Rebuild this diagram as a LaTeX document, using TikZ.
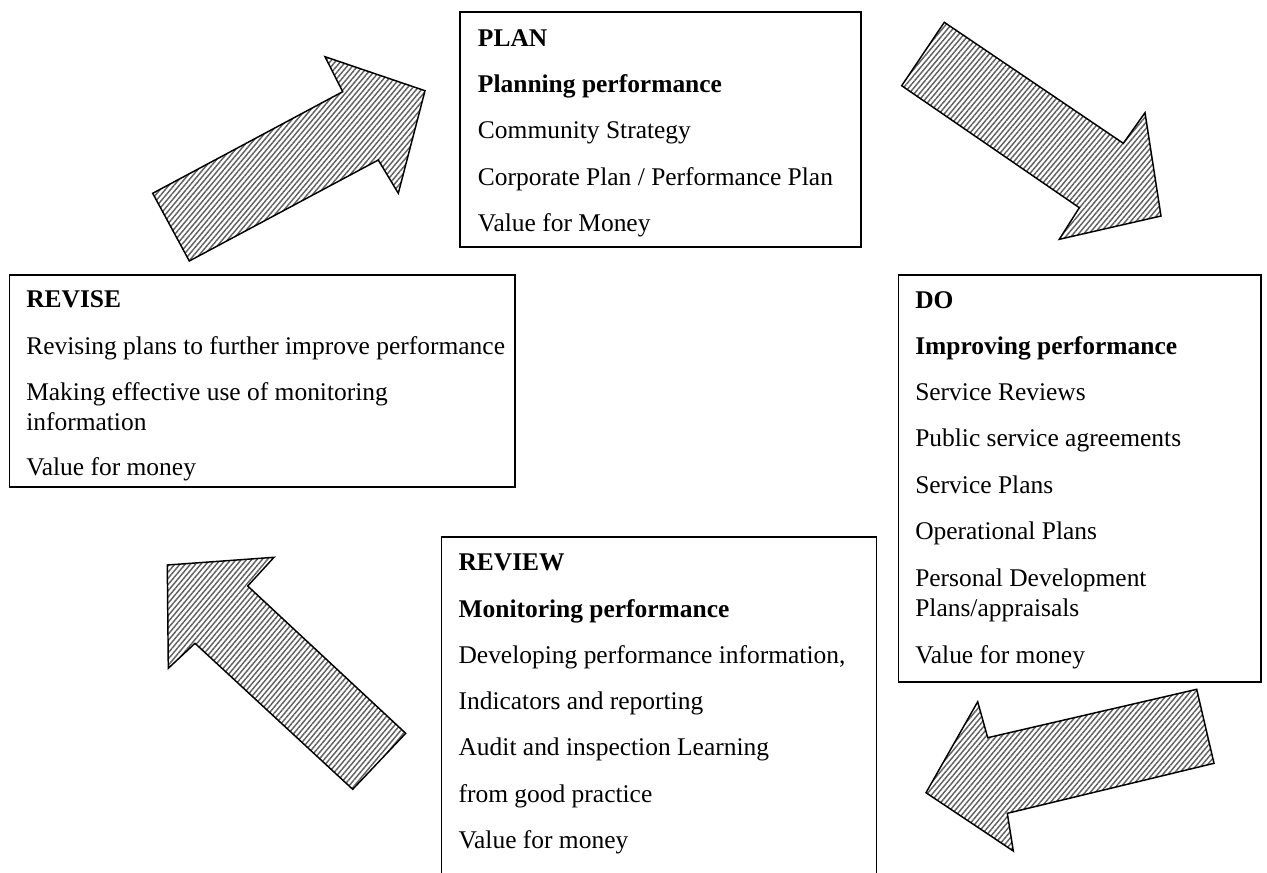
\documentclass[tikz,border=0pt]{standalone}
\usepackage{fontspec}
\setmainfont{Liberation Serif}
\usetikzlibrary{patterns.meta}
\begin{document}
\begin{tikzpicture}[x=0.75pt,y=-0.75pt,
  box/.style={draw=black,line width=1pt},
  txt/.style={anchor=base west,inner sep=0pt,font=\fontsize{19.1}{23}\selectfont},
  hd/.style={anchor=base west,inner sep=0pt,font=\fontsize{19.1}{23}\selectfont\bfseries},
  bigarrow/.style={draw=black,line width=1.1pt,line join=miter,
    pattern={Lines[angle=50,distance=3pt,line width=1.1pt]},pattern color=black!62}]
\useasboundingbox (0,0) rectangle (1267,872);

% PLAN box
\draw[box] (460,12) rectangle (861,247);
\node[hd]  (p1) at (477.7,46)    {PLAN};
\node[hd]  (p2) at (477.7,92)    {Planning performance};
\node[txt] (p3) at (477.7,138.5) {Community Strategy};
\node[txt] (p4) at (477.7,185)   {Corporate Plan / Performance Plan};
\node[txt] (p5) at (477.7,231.5) {Value for Money};

% REVISE box
\draw[box] (9.5,275) rectangle (515,487);
\node[hd]  (r1) at (26,307.7) {REVISE};
\node[txt] (r2) at (26,354.3) {Revising plans to further improve performance};
\node[txt] (r3) at (26,400)   {Making effective use of monitoring};
\node[txt] (r4) at (26,430)   {information};
\node[txt] (r5) at (26,475)   {Value for money};

% DO box
\draw[box] (898.5,275) rectangle (1261,682);
\node[hd]  (d1) at (915,308.3) {DO};
\node[hd]  (d2) at (915,354)   {Improving performance};
\node[txt] (d3) at (915,400)   {Service Reviews};
\node[txt] (d4) at (915,446.5) {Public service agreements};
\node[txt] (d5) at (915,493)   {Service Plans};
\node[txt] (d6) at (915,539.5) {Operational Plans};
\node[txt] (d7) at (915,586)   {Personal Development};
\node[txt] (d8) at (915,616.5) {Plans/appraisals};
\node[txt] (d9) at (915,663)   {Value for money};

% REVIEW box
\draw[box] (441.7,537) rectangle (876.7,885);
\node[hd]  (v1) at (458.3,570.7) {REVIEW};
\node[hd]  (v2) at (458.3,617.2) {Monitoring performance};
\node[txt] (v3) at (458.3,663.2) {Developing performance information,};
\node[txt] (v4) at (458.3,709.5) {Indicators and reporting};
\node[txt] (v5) at (458.3,755.8) {Audit and inspection Learning};
\node[txt] (v6) at (458.3,802.2) {from good practice};
\node[txt] (v7) at (458.3,848.8) {Value for money};

% Arrow REVISE -> PLAN
\draw[bigarrow] (152.7,193.3) -- (342.7,91.7) -- (325,56.7) -- (425,90.7)
  -- (398.3,193.3) -- (378.3,160) -- (189.3,261) -- cycle;
% Arrow PLAN -> DO
\draw[bigarrow] (944.3,22.3) -- (1123.3,143.3) -- (1145,112.7) -- (1161,216)
  -- (1059.3,239.3) -- (1079.3,207.7) -- (901.7,85.7) -- cycle;
% Arrow DO -> REVIEW
\draw[bigarrow] (1196.7,689.3) -- (987.7,737.7) -- (977.7,701.7) -- (926,792.7)
  -- (1013.3,851) -- (1007.3,813.3) -- (1214,763.3) -- cycle;
% Arrow REVIEW -> REVISE
\draw[bigarrow] (405.7,733.3) -- (247.7,586) -- (274,557.3) -- (167.3,565)
  -- (168.3,668.3) -- (195,643.3) -- (352.7,789.3) -- cycle;
\end{tikzpicture}
\end{document}
